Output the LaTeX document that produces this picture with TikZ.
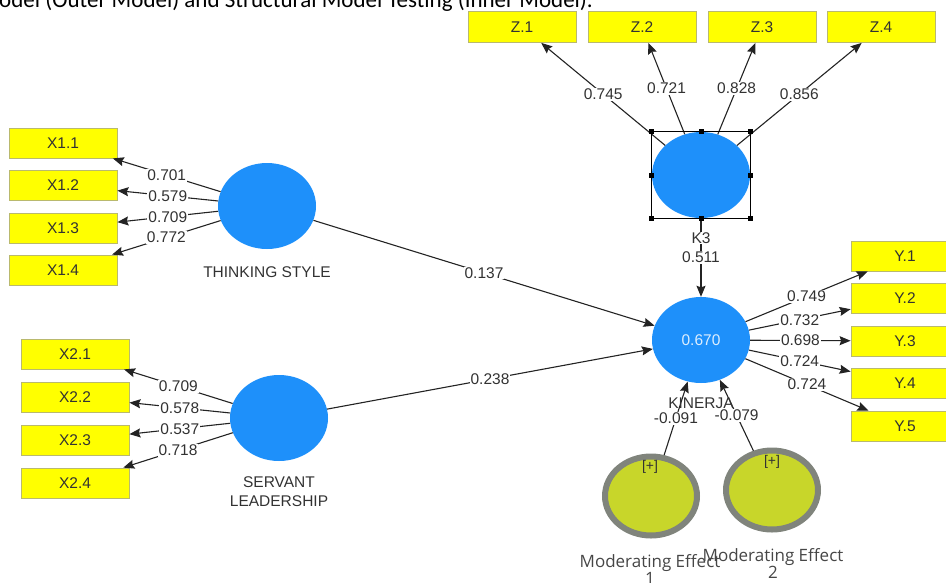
\documentclass[tikz,border=0pt]{standalone}
\usepackage{fontspec}
\setmainfont{Liberation Sans}
\newfontfamily\captionfont{Carlito}
\newfontfamily\modfont{Open Sans}
\usetikzlibrary{shapes.geometric,arrows.meta}

\definecolor{lvblue}{RGB}{30,144,250}
\definecolor{indyellow}{RGB}{255,255,0}
\definecolor{indborder}{RGB}{185,185,110}
\definecolor{modfill}{RGB}{200,214,42}
\definecolor{modring}{RGB}{128,132,124}
\definecolor{inktext}{RGB}{50,50,50}
\definecolor{pathline}{RGB}{35,35,35}

\tikzset{
  latent/.style={ellipse, fill=lvblue, minimum width=98pt, minimum height=86pt, inner sep=0pt,
    text=white!85!lvblue, font=\fontsize{15.5}{18}\selectfont},
  moderator/.style={ellipse, fill=modfill, draw=modring, line width=6pt,
    minimum width=92pt, minimum height=79pt, inner sep=0pt},
  indicator/.style={rectangle, fill=indyellow, draw=indborder, line width=0.8pt,
    minimum width=108pt, minimum height=30pt, inner sep=0pt,
    text=inktext, font=\fontsize{15.5}{18}\selectfont},
  loading/.style={fill=white, inner sep=1pt, text=inktext, font=\fontsize{15.5}{18}\selectfont},
  lvname/.style={inner sep=1pt, text=inktext, align=center, font=\fontsize{15.5}{19}\selectfont},
  modname/.style={inner sep=0pt, text=inktext!90!white, align=center, font=\modfont\fontsize{17}{17.5}\selectfont},
  patharrow/.style={draw=pathline, line width=1.1pt, -{Stealth[length=11pt,width=9pt,inset=1.5pt]}},
  selhandle/.style={fill=black, minimum size=5pt, inner sep=0pt}
}

\begin{document}
\begin{tikzpicture}[x=1pt,y=-1pt]

  % --- frame ---
  \useasboundingbox (0,0) rectangle (946,582);
  \clip (0,0) rectangle (946,582);

  \node[anchor=base west, inner sep=0pt, font=\captionfont\fontsize{23}{27}\selectfont] (caption)
    at (-1,7) {odel (Outer Model) and Structural Model Testing (Inner Model).};

  % =========================
  %  LATENT VARIABLES
  % =========================

  \node[latent] (ts)  at (267,206) {};
  \node[latent] (sl)  at (279,418) {};
  \node[latent] (k3)  at (701,175) {};
  \node[latent] (kin) at (701,340) {0.670};
  \node[moderator] (me1) at (651,496) {};
  \node[moderator] (me2) at (772,490) {};

  % =========================
  %  INDICATORS
  % =========================

  \node[indicator] (x11) at (63,143) {X1.1};
  \node[indicator] (x12) at (63,185) {X1.2};
  \node[indicator] (x13) at (63,228) {X1.3};
  \node[indicator] (x14) at (63,270) {X1.4};

  \node[indicator] (x21) at (75,354) {X2.1};
  \node[indicator] (x22) at (75,397) {X2.2};
  \node[indicator] (x23) at (75,440) {X2.3};
  \node[indicator] (x24) at (75,483) {X2.4};

  \node[indicator, minimum height=31pt] (z1) at (522,27) {Z.1};
  \node[indicator, minimum height=31pt] (z2) at (642,27) {Z.2};
  \node[indicator, minimum height=31pt] (z3) at (762,27) {Z.3};
  \node[indicator, minimum height=31pt] (z4) at (881,27) {Z.4};

  \node[indicator] (y1) at (905,256) {Y.1};
  \node[indicator] (y2) at (905,298) {Y.2};
  \node[indicator] (y3) at (905,341) {Y.3};
  \node[indicator] (y4) at (905,383) {Y.4};
  \node[indicator] (y5) at (905,426) {Y.5};

  % =========================
  %  OUTER LOADINGS
  % =========================

  \draw[patharrow] (ts) -- (x11) node[loading, midway] {0.701};
  \draw[patharrow] (ts) -- (x12) node[loading, midway] {0.579};
  \draw[patharrow] (ts) -- (x13) node[loading, midway] {0.709};
  \draw[patharrow] (ts) -- (x14) node[loading, midway] {0.772};

  \draw[patharrow] (sl) -- (x21) node[loading, midway] {0.709};
  \draw[patharrow] (sl) -- (x22) node[loading, midway] {0.578};
  \draw[patharrow] (sl) -- (x23) node[loading, midway] {0.537};
  \draw[patharrow] (sl) -- (x24) node[loading, midway] {0.718};

  \draw[patharrow] (k3) -- (z1) node[loading, midway] {0.745};
  \draw[patharrow] (k3) -- (z2) node[loading, midway] {0.721};
  \draw[patharrow] (k3) -- (z3) node[loading, midway] {0.828};
  \draw[patharrow] (k3) -- (z4) node[loading, midway] {0.856};

  \draw[patharrow] (kin) -- (y1) node[loading, midway] {0.749};
  \draw[patharrow] (kin) -- (y2) node[loading, midway] {0.732};
  \draw[patharrow] (kin) -- (y3) node[loading, midway] {0.698};
  \draw[patharrow] (kin) -- (y4) node[loading, midway] {0.724};
  \draw[patharrow] (kin) -- (y5) node[loading, midway] {0.724};

  % =========================
  %  INNER MODEL
  % =========================

  \draw[patharrow] (ts)  -- (kin) node[loading, midway] {0.137};
  \draw[patharrow] (sl)  -- (kin) node[loading, midway] {0.238};
  \draw[patharrow] (k3)  -- (kin) node[loading, midway] {0.511};
  \draw[patharrow] (me1) -- (kin) node[loading, midway] {-0.091};
  \draw[patharrow] (me2) -- (kin) node[loading, midway] {-0.079};

  % --- names ---
  \node[lvname] (tsname) at (267,272) {THINKING STYLE};
  \node[lvname] (slname) at (279,492) {SERVANT\\LEADERSHIP};
  \node[lvname, fill=white] (k3name) at (701,238) {K3};
  \node[lvname] (kinname) at (701,403) {KINERJA};

  \node[inner sep=0pt, text=inktext, font=\fontsize{14}{16}\selectfont] (me1plus) at (650,467) {[+]};
  \node[inner sep=0pt, text=inktext, font=\fontsize{14}{16}\selectfont] (me2plus) at (772,462) {[+]};
  \node[modname, anchor=north] (me1name) at (650,554) {Moderating Effect\\1};
  \node[modname, anchor=north] (me2name) at (773,548) {Moderating Effect\\2};

  % --- selection frame round K3 ---
  \draw[black, line width=0.9pt] (k3.west |- k3.north) rectangle (k3.east |- k3.south);
  \node[selhandle] (hnw) at (k3.west |- k3.north) {};
  \node[selhandle] (hn)  at (k3.north) {};
  \node[selhandle] (hne) at (k3.east |- k3.north) {};
  \node[selhandle] (hw)  at (k3.west) {};
  \node[selhandle] (he)  at (k3.east) {};
  \node[selhandle] (hsw) at (k3.west |- k3.south) {};
  \node[selhandle] (hs)  at (k3.south) {};
  \node[selhandle] (hse) at (k3.east |- k3.south) {};

\end{tikzpicture}
\end{document}
